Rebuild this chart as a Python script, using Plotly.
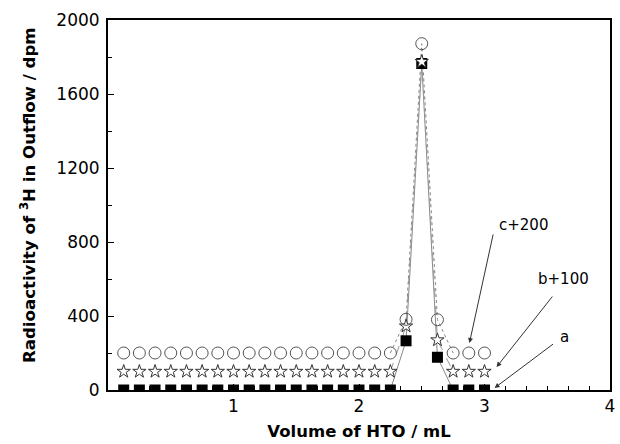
import plotly.graph_objects as go

volume = [0.125, 0.25, 0.375, 0.5, 0.625, 0.75, 0.875, 1.0, 1.125, 1.25, 1.375, 1.5,
          1.625, 1.75, 1.875, 2.0, 2.125, 2.25, 2.375, 2.5, 2.625, 2.75, 2.875, 3.0]
series_a = [0] * 18 + [266, 1765, 177, 0, 0, 0]
series_b100 = [100] * 18 + [345, 1775, 270, 100, 100, 100]
series_c200 = [200] * 18 + [382, 1872, 380, 200, 200, 200]

FONT = "DejaVu Sans"
peak = slice(17, 22)  # connecting lines are visible only around the peak

fig = go.Figure()
# connecting lines
for ys, dash, col in [(series_a, "solid", "#888888"),
                      (series_b100, "dash", "#999999"),
                      (series_c200, "dot", "#888888")]:
    fig.add_trace(go.Scatter(x=volume[peak], y=ys[peak], mode="lines",
                             line=dict(color=col, width=1, dash=dash),
                             hoverinfo="skip"))
# markers
fig.add_trace(go.Scatter(
    x=volume, y=series_a, mode="markers", name="a",
    marker=dict(symbol="square", size=11, color="black"),
    cliponaxis=True))
fig.add_trace(go.Scatter(
    x=volume, y=series_b100, mode="markers", name="b+100",
    marker=dict(symbol="star", size=10, color="white", line=dict(width=1, color="#333333")),
    cliponaxis=False))
fig.add_trace(go.Scatter(
    x=volume, y=series_c200, mode="markers", name="c+200",
    marker=dict(symbol="circle-open", size=12, color="#555555", line=dict(width=1)),
    cliponaxis=False))

arrow = dict(showarrow=True, arrowhead=2, arrowsize=1, arrowwidth=1,
             arrowcolor="#333333", text="", xref="x", yref="y")
fig.add_annotation(x=2.88, y=254, ax=24, ay=-110, **arrow)
fig.add_annotation(x=3.096, y=124, ax=57, ay=-72, **arrow)
fig.add_annotation(x=3.08, y=11, ax=60, ay=-45, **arrow)

lab = dict(showarrow=False, xref="x", yref="y", font=dict(family=FONT, size=15, color="black"))
fig.add_annotation(x=3.312, y=892, text="c+200", **lab)
fig.add_annotation(x=3.632, y=600, text="b+100", **lab)
fig.add_annotation(x=3.64, y=286, text="a", **lab)

# y-axis title (placed as rotated text, slightly above the plot centre as in the reference)
fig.add_annotation(x=0, y=0.527, xref="paper", yref="paper", xanchor="center", yanchor="middle",
                   xshift=-80, textangle=-90, showarrow=False,
                   text="<b>Radioactivity of <sup>3</sup>H in Outflow / dpm</b>",
                   font=dict(family=FONT, size=16.6, color="black"))

axis_common = dict(showline=True, linecolor="black", linewidth=2, mirror=True,
                   ticks="inside", ticklen=6, tickwidth=1, tickcolor="black",
                   showgrid=False, zeroline=False, automargin=False,
                   tickfont=dict(family=FONT, size=17, color="black"))
fig.update_xaxes(range=[0, 4], tickvals=[1, 2, 3, 4],
                 minor=dict(dtick=1/6, tick0=0, ticks="inside", ticklen=4, tickcolor="black", tickwidth=1),
                 title=dict(text="<b>Volume of HTO / mL</b>", font=dict(family=FONT, size=16.5, color="black"), standoff=10),
                 **axis_common)
fig.update_yaxes(range=[0, 2000], tickvals=[0, 400, 800, 1200, 1600, 2000],
                 minor=dict(dtick=200, ticks="inside", ticklen=4, tickcolor="black", tickwidth=1),
                 ticklabelstandoff=3,
                 **axis_common)
fig.update_layout(width=620, height=444, margin=dict(l=108, r=10, t=20, b=54),
                  plot_bgcolor="white", paper_bgcolor="white", showlegend=False)
fig.write_html("out.html", config={"displayModeBar": False},
               post_script="document.body.style.margin='0';document.body.style.overflow='hidden';")
